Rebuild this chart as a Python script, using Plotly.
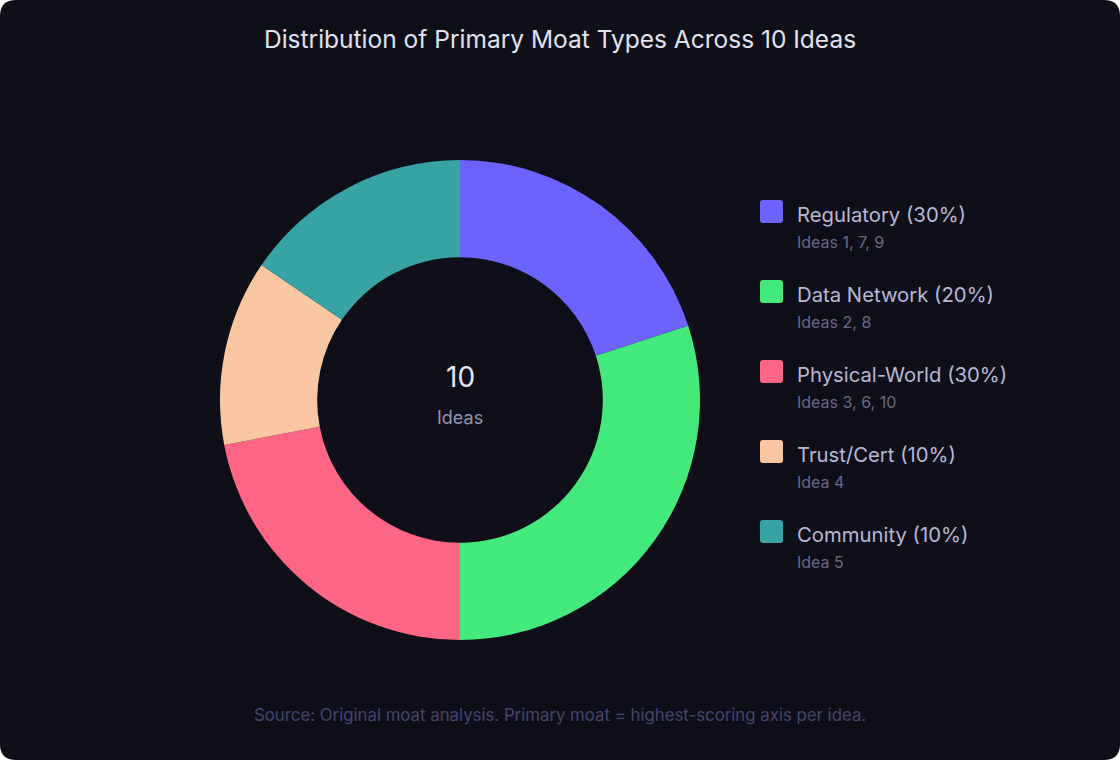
import plotly.graph_objects as go

W, H = 1120, 760

# moat types, the share each slice takes of the ring, and the legend texts
moat_types = ['Regulatory', 'Data Network', 'Physical-World', 'Trust/Cert', 'Community']
slice_share = [20, 30, 22, 12.5, 15.5]
pct_labels = ['30%', '20%', '30%', '10%', '10%']
idea_lists = ['Ideas 1, 7, 9', 'Ideas 2, 8', 'Ideas 3, 6, 10', 'Idea 4', 'Idea 5']
colors = ['#6C63FF', '#43E97B', '#FF6584', '#F8C6A0', '#38A3A5']

BG = '#0F0F1A'
FONT = 'Inter, Liberation Sans, Arial, sans-serif'


def px_x(x):
    return x / W


def px_y(y):
    return 1 - y / H


def rounded_rect(x0, y0, x1, y1, r):
    # path in paper coords, input in pixels (top-left origin)
    pts = [
        ('M', x0 + r, y0), ('L', x1 - r, y0), ('Q', x1, y0, x1, y0 + r),
        ('L', x1, y1 - r), ('Q', x1, y1, x1 - r, y1),
        ('L', x0 + r, y1), ('Q', x0, y1, x0, y1 - r),
        ('L', x0, y0 + r), ('Q', x0, y0, x0 + r, y0),
    ]
    out = ''
    for p in pts:
        cmd = p[0]
        coords = p[1:]
        s = []
        for i in range(0, len(coords), 2):
            s.append('%.5f,%.5f' % (px_x(coords[i]), px_y(coords[i + 1])))
        out += cmd + ' '.join(s) + ' '
    return out + 'Z'


fig = go.Figure()
fig.add_trace(go.Pie(
    labels=moat_types, values=slice_share, hole=0.595,
    sort=False, direction='clockwise', rotation=0,
    marker=dict(colors=colors, line=dict(width=0)),
    textinfo='none', hoverinfo='label+percent', showlegend=False,
    domain=dict(x=[px_x(220), px_x(700)], y=[px_y(640), px_y(160)]),
))

shapes = [dict(type='path', xref='paper', yref='paper', layer='below',
               path=rounded_rect(0, 0, W, H, 16), fillcolor=BG, line=dict(width=0))]
annotations = [
    dict(text='Distribution of Primary Moat Types Across 10 Ideas', x=0.5, y=px_y(39),
         font=dict(size=24.5, color='#E2E2F0', family=FONT)),
    dict(text='10', x=px_x(460), y=px_y(377), font=dict(size=28, color='#E6E6F2', family=FONT)),
    dict(text='Ideas', x=px_x(460), y=px_y(417), font=dict(size=18, color='#9494B4', family=FONT)),
    dict(text='Source: Original moat analysis. Primary moat = highest-scoring axis per idea.',
         x=0.5, y=px_y(715), font=dict(size=16.8, color='#45456A', family=FONT)),
]

# custom legend on the right
for i, name in enumerate(moat_types):
    top = 200 + 80 * i
    shapes.append(dict(type='path', xref='paper', yref='paper',
                       path=rounded_rect(760, top, 783, top + 23, 3),
                       fillcolor=colors[i], line=dict(width=0)))
    annotations.append(dict(text='%s (%s)' % (name, pct_labels[i]), x=px_x(795), y=px_y(top + 14),
                            xanchor='left', font=dict(size=20.3, color='#B8B8D6', family=FONT)))
    annotations.append(dict(text=idea_lists[i], x=px_x(795), y=px_y(top + 42),
                            xanchor='left', font=dict(size=16, color='#686886', family=FONT)))

for a in annotations:
    a.update(xref='paper', yref='paper', showarrow=False)
    a.setdefault('xanchor', 'center')
    a['yanchor'] = 'middle'

fig.update_layout(
    width=W, height=H, margin=dict(l=0, r=0, t=0, b=0),
    paper_bgcolor='white', plot_bgcolor=BG,
    shapes=shapes, annotations=annotations,
)

# drop the default body margin so the 1120x760 figure fills the window
fig.write_html('out.html', config={'displayModeBar': False},
               post_script="document.body.style.margin='0';")
